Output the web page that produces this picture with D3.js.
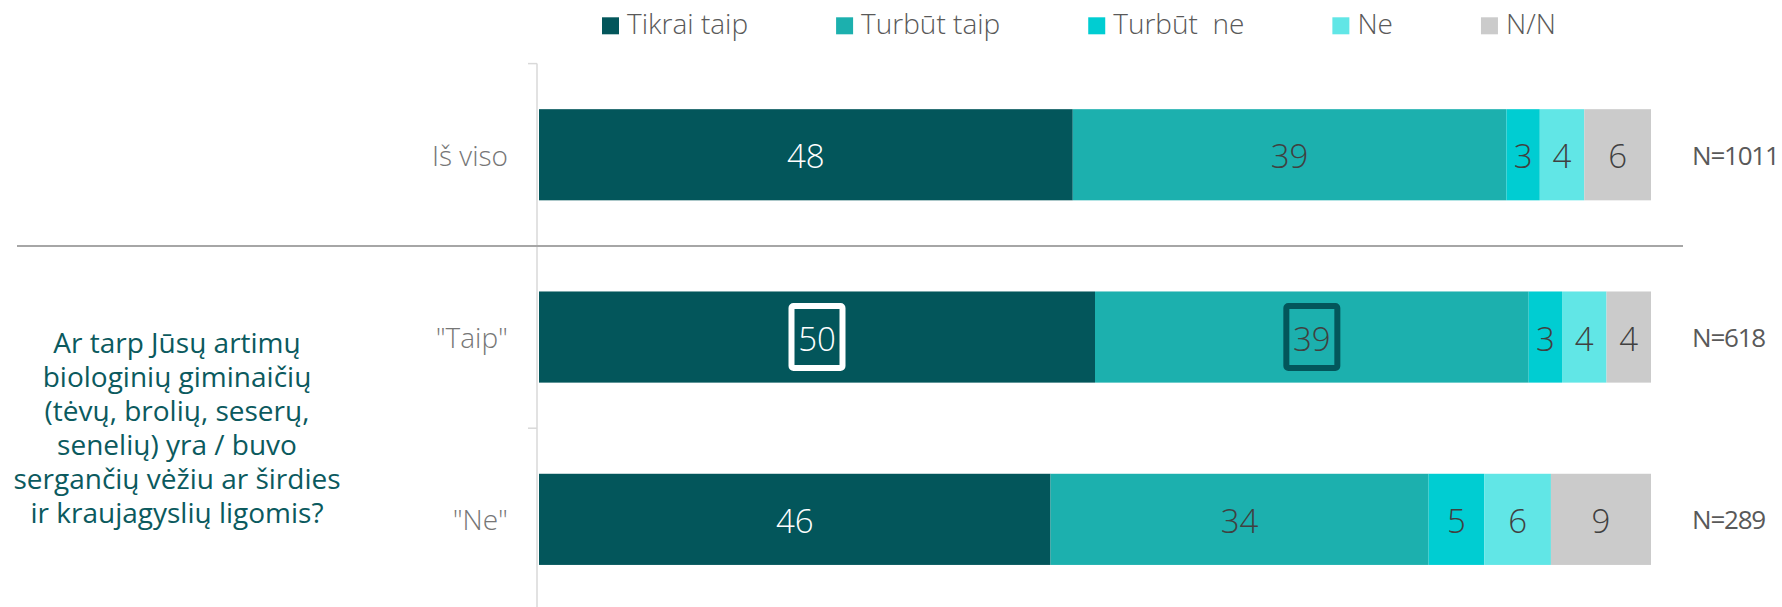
<!DOCTYPE html>
<html>
<head>
<meta charset="utf-8">
<script src="https://cdn.jsdelivr.net/npm/d3@7"></script>
<style>
  body { margin: 0; background: #fff; }
  svg { display: block; font-family: "Open Sans", sans-serif; }
</style>
</head>
<body>
<div id="chart"></div>
<script>
// ----------------------------------------------------------------
// Data
// ----------------------------------------------------------------

const categories = ["Iš viso", "\"Taip\"", "\"Ne\""];
const seriesNames = ["Tikrai taip", "Turbūt taip", "Turbūt  ne", "Ne", "N/N"];
const seriesColors = ["#03565b", "#1cb0ae", "#00cdd2", "#61e6e6", "#cbcbcb"];
const values = [
  [48, 39, 3, 4, 6],
  [50, 39, 3, 4, 4],
  [46, 34, 5, 6, 9]
];
const sampleSizes = ["N=1011", "N=618", "N=289"];
const questionLines = [
  "Ar tarp Jūsų artimų",
  "biologinių giminaičių",
  "(tėvų, brolių, seserų,",
  "senelių) yra / buvo",
  "sergančių vėžiu ar širdies",
  "ir kraujagyslių ligomis?"
];
// highlighted cells: [category index, series index, box colour]
const highlights = [[1, 0, "#ffffff"], [1, 1, "#03565b"]];

// ----------------------------------------------------------------
// Layout
// ----------------------------------------------------------------

const width = 1782, height = 607;

const svg = d3.select("#chart").append("svg")
  .attr("width", width)
  .attr("height", height);

const x = d3.scaleLinear().domain([0, 100]).range([539, 1651]);
const y = d3.scaleBand().domain(categories)
  .range([63.6, 610.5])
  .paddingInner(0.5)
  .paddingOuter(0.25);

const stack = d3.stack().keys(d3.range(seriesNames.length));
const stacked = stack(values);

// ----------------------------------------------------------------
// Axis and separator
// ----------------------------------------------------------------

svg.append("line")
  .attr("x1", 537).attr("x2", 537)
  .attr("y1", 63.6).attr("y2", height)
  .attr("stroke", "#d9d9d9").attr("stroke-width", 1.5);

categories.forEach(function (c) {
  const yb = y(c) - y.step() * y.paddingInner() / 2;
  svg.append("line")
    .attr("x1", 528).attr("x2", 537)
    .attr("y1", yb).attr("y2", yb)
    .attr("stroke", "#d9d9d9").attr("stroke-width", 1.5);
});

const sepY = y(categories[1]) - y.step() * y.paddingInner() / 2;
svg.append("line")
  .attr("x1", 17).attr("x2", 1683)
  .attr("y1", sepY).attr("y2", sepY)
  .attr("stroke", "#a6a6a6").attr("stroke-width", 2);

// ----------------------------------------------------------------
// Bars
// ----------------------------------------------------------------

const layers = svg.append("g").selectAll("g")
  .data(stacked)
  .join("g")
  .attr("fill", function (d, i) { return seriesColors[i]; });

layers.selectAll("rect")
  .data(function (d) { return d; })
  .join("rect")
  .attr("x", function (d) { return x(d[0]); })
  .attr("width", function (d) { return x(d[1]) - x(d[0]); })
  .attr("y", function (d, j) { return y(categories[j]); })
  .attr("height", y.bandwidth());

// value labels
stacked.forEach(function (layer, i) {
  svg.append("g").selectAll("text")
    .data(layer)
    .join("text")
    .attr("x", function (d) { return (x(d[0]) + x(d[1])) / 2; })
    .attr("y", function (d, j) { return y(categories[j]) + y.bandwidth() / 2 + 1; })
    .attr("text-anchor", "middle")
    .attr("dominant-baseline", "central")
    .attr("font-size", 33)
    .attr("font-weight", 300)
    .attr("fill", i === 0 ? "#ffffff" : "#404040")
    .text(function (d) { return d[1] - d[0]; });
});

// highlight boxes
highlights.forEach(function (h) {
  const d = stacked[h[1]][h[0]];
  const cx = (x(d[0]) + x(d[1])) / 2;
  const cy = y(categories[h[0]]) + y.bandwidth() / 2;
  svg.append("rect")
    .attr("x", cx - 25.5).attr("y", cy - 31)
    .attr("width", 51).attr("height", 62)
    .attr("rx", 2)
    .attr("fill", "none")
    .attr("stroke", h[2])
    .attr("stroke-width", 6);
});

// ----------------------------------------------------------------
// Labels
// ----------------------------------------------------------------

svg.append("g").selectAll("text")
  .data(categories)
  .join("text")
  .attr("x", 508)
  .attr("y", function (c) { return y(c) + y.bandwidth() / 2; })
  .attr("text-anchor", "end")
  .attr("dominant-baseline", "central")
  .attr("font-size", 28)
  .attr("font-weight", 300)
  .attr("fill", "#767676")
  .text(function (c) { return c; });

svg.append("g").selectAll("text")
  .data(sampleSizes)
  .join("text")
  .attr("x", 1692)
  .attr("y", function (s, j) { return y(categories[j]) + y.bandwidth() / 2; })
  .attr("dominant-baseline", "central")
  .attr("font-size", 26)
  .attr("letter-spacing", -1.2)
  .attr("fill", "#595959")
  .text(function (s) { return s; });

// question, one text block with a line per tspan
svg.append("text")
  .attr("font-size", 28)
  .attr("fill", "#0b5a5e")
  .attr("text-anchor", "middle")
  .selectAll("tspan")
  .data(questionLines)
  .join("tspan")
  .attr("x", 177)
  .attr("y", function (s, i) { return 353 + i * 34; })
  .text(function (s) { return s; });

// ----------------------------------------------------------------
// Legend
// ----------------------------------------------------------------

let lx = 602;
seriesNames.forEach(function (name, i) {
  svg.append("rect")
    .attr("x", lx).attr("y", 17.3)
    .attr("width", 17).attr("height", 17)
    .attr("fill", seriesColors[i]);
  const t = svg.append("text")
    .attr("x", lx + 25).attr("y", 34)
    .attr("font-size", 28)
    .attr("font-weight", 300)
    .attr("fill", "#595959")
    .style("white-space", "pre")
    .text(name);
  lx = lx + 25 + t.node().getComputedTextLength() + 88;
});
</script>
</body>
</html>
